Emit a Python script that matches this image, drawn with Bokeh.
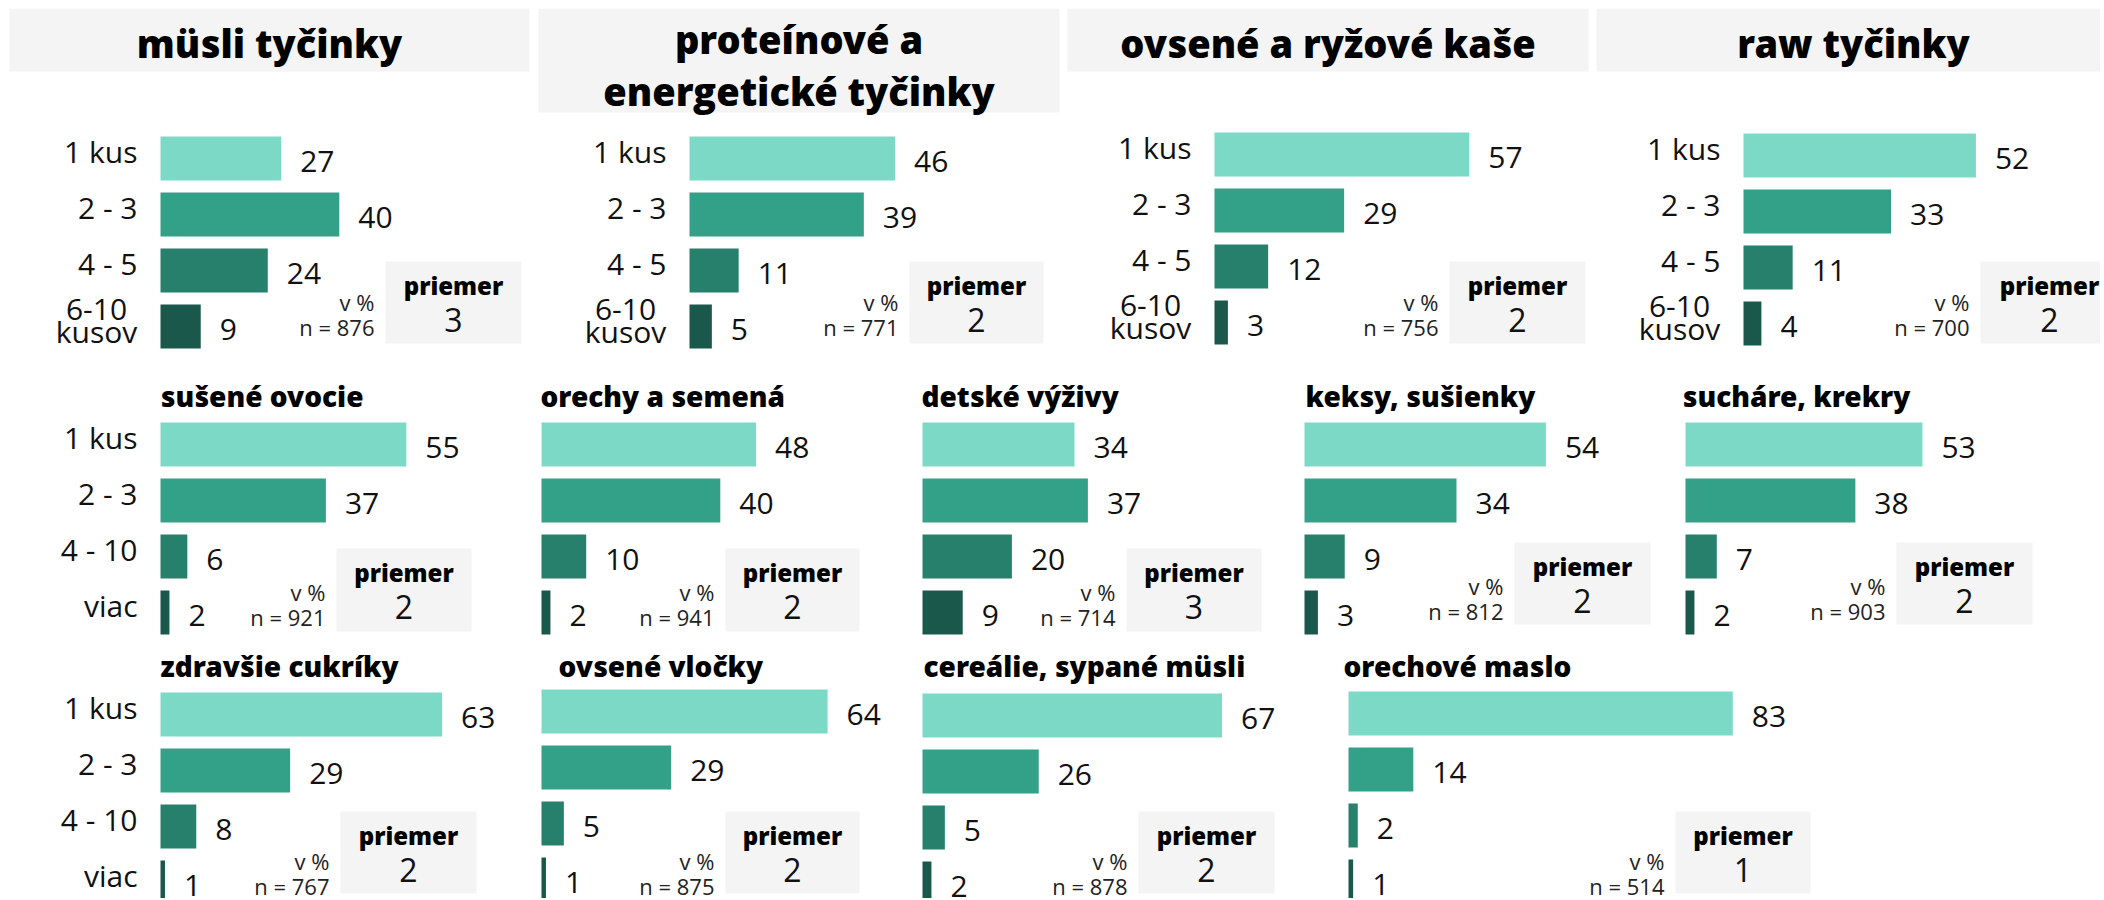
from bokeh.plotting import figure
from bokeh.models import Range1d, ColumnDataSource, Spacer
from bokeh.layouts import row, column
from bokeh.embed import file_html
from bokeh.resources import INLINE
from bokeh.core.properties import value

# ---------------- data ----------------
top_cats = ["1 kus", "2 - 3", "4 - 5", "6-10\nkusov"]
other_cats = ["1 kus", "2 - 3", "4 - 10", "viac"]

titles = [
    "müsli tyčinky", "proteínové a\nenergetické tyčinky", "ovsené a ryžové kaše", "raw tyčinky",
    "sušené ovocie", "orechy a semená", "detské výživy", "keksy, sušienky", "sucháre, krekry",
    "zdravšie cukríky", "ovsené vločky", "cereálie, sypané müsli", "orechové maslo",
]

musli_tycinky = [27, 40, 24, 9]
proteinove_tycinky = [46, 39, 11, 5]
ovsene_kase = [57, 29, 12, 3]
raw_tycinky = [52, 33, 11, 4]
susene_ovocie = [55, 37, 6, 2]
orechy_semena = [48, 40, 10, 2]
detske_vyzivy = [34, 37, 20, 9]
keksy_susienky = [54, 34, 9, 3]
suchare_krekry = [53, 38, 7, 2]
zdravsie_cukriky = [63, 29, 8, 1]
ovsene_vlocky = [64, 29, 5, 1]
cerealie_musli = [67, 26, 5, 2]
orechove_maslo = [83, 14, 2, 1]

n_counts = [876, 771, 756, 700, 921, 941, 714, 812, 903, 767, 875, 878, 514]
averages = [3, 2, 2, 2, 2, 2, 3, 2, 2, 2, 2, 2, 1]

series = [musli_tycinky, proteinove_tycinky, ovsene_kase, raw_tycinky,
          susene_ovocie, orechy_semena, detske_vyzivy, keksy_susienky, suchare_krekry,
          zdravsie_cukriky, ovsene_vlocky, cerealie_musli, orechove_maslo]

# ---------------- style / layout ----------------
COLORS = ["#7bd9c5", "#33a088", "#26806c", "#1a584c"]
BOX_GRAY = "#f4f4f4"
BODY_FONT = "Open Sans"
TITLE_FONT = "Open Sans ExtraBold"
TOP_TITLE_FS = 38
SUB_TITLE_FS = 28
PITCH = 56
BAR_H = 44
BASE_K = 0.37   # baseline correction (fraction of font size)

ROW_TOP = [8, 360, 645]
ROW_H = [352, 285, 253]
ROW_X0 = [[8, 537, 1066, 1595], [8, 537, 918, 1299, 1680], [8, 537, 918, 1299]]
ROW_W = [[529, 529, 529, 505], [529, 381, 381, 381, 420], [529, 381, 381, 801]]
VB = [49, 52, 58]

# absolute page positions per panel
panels = [
    dict(bar_x=160, cy=158, box=(385, 261, 521, 343), tbox=(9, 8, 529, 71), tbase=[57]),
    dict(bar_x=689, cy=158, box=(909, 261, 1043, 343), tbox=(538, 8, 1059, 112), tbase=[53, 105]),
    dict(bar_x=1214, cy=154, box=(1449, 261, 1585, 343), tbox=(1067, 8, 1588, 71), tbase=[57]),
    dict(bar_x=1743, cy=155, box=(1980, 261, 2118, 343), tbox=(1596, 8, 2110, 71), tbase=[57]),
    dict(bar_x=160, cy=444, box=(336, 548, 471, 631), tx=160, tbase=[406]),
    dict(bar_x=541, cy=444, box=(725, 548, 859, 631), tx=540, tbase=[406]),
    dict(bar_x=922, cy=444, box=(1126, 548, 1261, 631), tx=921, tbase=[406]),
    dict(bar_x=1304, cy=444, box=(1514, 542, 1650, 624), tx=1305, tbase=[406]),
    dict(bar_x=1685, cy=444, box=(1896, 542, 2032, 624), tx=1682, tbase=[406]),
    dict(bar_x=160, cy=714, box=(340, 811, 476, 893), tx=160, tbase=[676]),
    dict(bar_x=541, cy=711, box=(725, 811, 859, 893), tx=558, tbase=[676]),
    dict(bar_x=922, cy=715, box=(1138, 811, 1274, 893), tx=923, tbase=[676]),
    dict(bar_x=1348, cy=713, box=(1675, 811, 1810, 893), tx=1343, tbase=[676], s=4.63),
]


def build(i, r, c):
    cfg = panels[i]
    x0, y0 = ROW_X0[r][c], ROW_TOP[r]
    W, H = ROW_W[r][c], ROW_H[r]
    s = cfg.get("s", 4.47)
    bx = cfg["bar_x"] - x0
    cy = cfg["cy"] - y0
    vals = series[i]
    cats = top_cats if r == 0 else other_cats
    title = titles[i]

    p = figure(width=W, height=H, output_backend="svg", toolbar_location=None,
               x_axis_type=None, y_axis_type=None,
               x_range=Range1d(-bx / s, (W - bx) / s),
               y_range=Range1d((H - cy) / PITCH, -cy / PITCH),
               min_border=0, outline_line_color=None,
               background_fill_color="white", border_fill_color="white")

    def X(px):
        return (px - x0 - bx) / s

    def Y(py):
        return (py - y0 - cy) / PITCH

    def B(py, fs):
        return Y(py - BASE_K * fs)

    def txt(x, y, t, fs, align="left", font=BODY_FONT, style="normal", color="#111111"):
        p.text(x=[x], y=[y], text=[t], text_align=align, text_baseline="alphabetic",
               text_font=value(font), text_font_size=f"{fs}px", text_font_style=style,
               text_color=color)

    # title
    if "tbox" in cfg:
        l, t, rr, b = cfg["tbox"]
        p.quad(left=[X(l)], right=[X(rr)], top=[Y(t)], bottom=[Y(b)],
               fill_color=BOX_GRAY, line_color=None)
        for line, base in zip(title.split("\n"), cfg["tbase"]):
            txt(X((l + rr) / 2), B(base, TOP_TITLE_FS), line, TOP_TITLE_FS, "center",
                TITLE_FONT, "bold", "#000000")
    else:
        txt(X(cfg["tx"]), B(cfg["tbase"][0], SUB_TITLE_FS), title, SUB_TITLE_FS, "left",
            TITLE_FONT, "bold", "#000000")

    # bars + value labels
    idx = list(range(len(vals)))
    src = ColumnDataSource(dict(
        y=idx, right=vals, color=COLORS[:len(vals)],
        lab=[str(v) for v in vals],
        ly=[k + (14 - BASE_K * 30) / PITCH for k in idx],
    ))
    p.hbar(y="y", left=0, right="right", height=BAR_H / PITCH, fill_color="color",
           line_color=None, source=src)
    p.text(x="right", y="ly", text="lab", source=src, x_offset=19,
           text_baseline="alphabetic", text_align="left", text_font=value(BODY_FONT),
           text_font_size="30px", text_color="#111111")

    # category labels (every top panel, first panel of the lower rows)
    if r == 0 or c == 0:
        for k, cat in enumerate(cats):
            lines = cat.split("\n")
            if len(lines) == 1:
                txt(X(cfg["bar_x"] - 23), k + (4 - BASE_K * 30) / PITCH, cat, 30, "right")
            else:
                for j, line in enumerate(lines):
                    off = 5 - 11 * (len(lines) - 1) + 22 * j
                    txt(X(cfg["bar_x"] - 64), k + (off - BASE_K * 30) / PITCH, line, 30, "center")

    # average box
    l, t, rr, b = cfg["box"]
    p.quad(left=[X(l)], right=[X(rr)], top=[Y(t)], bottom=[Y(b)],
           fill_color=BOX_GRAY, line_color=None)
    txt(X((l + rr) / 2), B(t + 33, 24), "priemer", 24, "center", TITLE_FONT, "bold", "#000000")
    txt(X((l + rr) / 2), B(t + 70, 32), str(averages[i]), 32, "center")
    txt(X(l - 11), B(t + VB[r], 22), "v %", 22, "right", color="#222222")
    txt(X(l - 11), B(t + VB[r] + 25, 22), f"n = {n_counts[i]}", 22, "right", color="#222222")
    return p


rows_idx = [[0, 1, 2, 3], [4, 5, 6, 7, 8], [9, 10, 11, 12]]
rows = []
for r, ids in enumerate(rows_idx):
    figs = [build(i, r, c) for c, i in enumerate(ids)]
    rows.append(row(Spacer(width=8, height=ROW_H[r]), *figs, spacing=0))

layout = column(Spacer(width=8, height=8), *rows, spacing=0)

open("out.html", "w").write(file_html(layout, INLINE))
